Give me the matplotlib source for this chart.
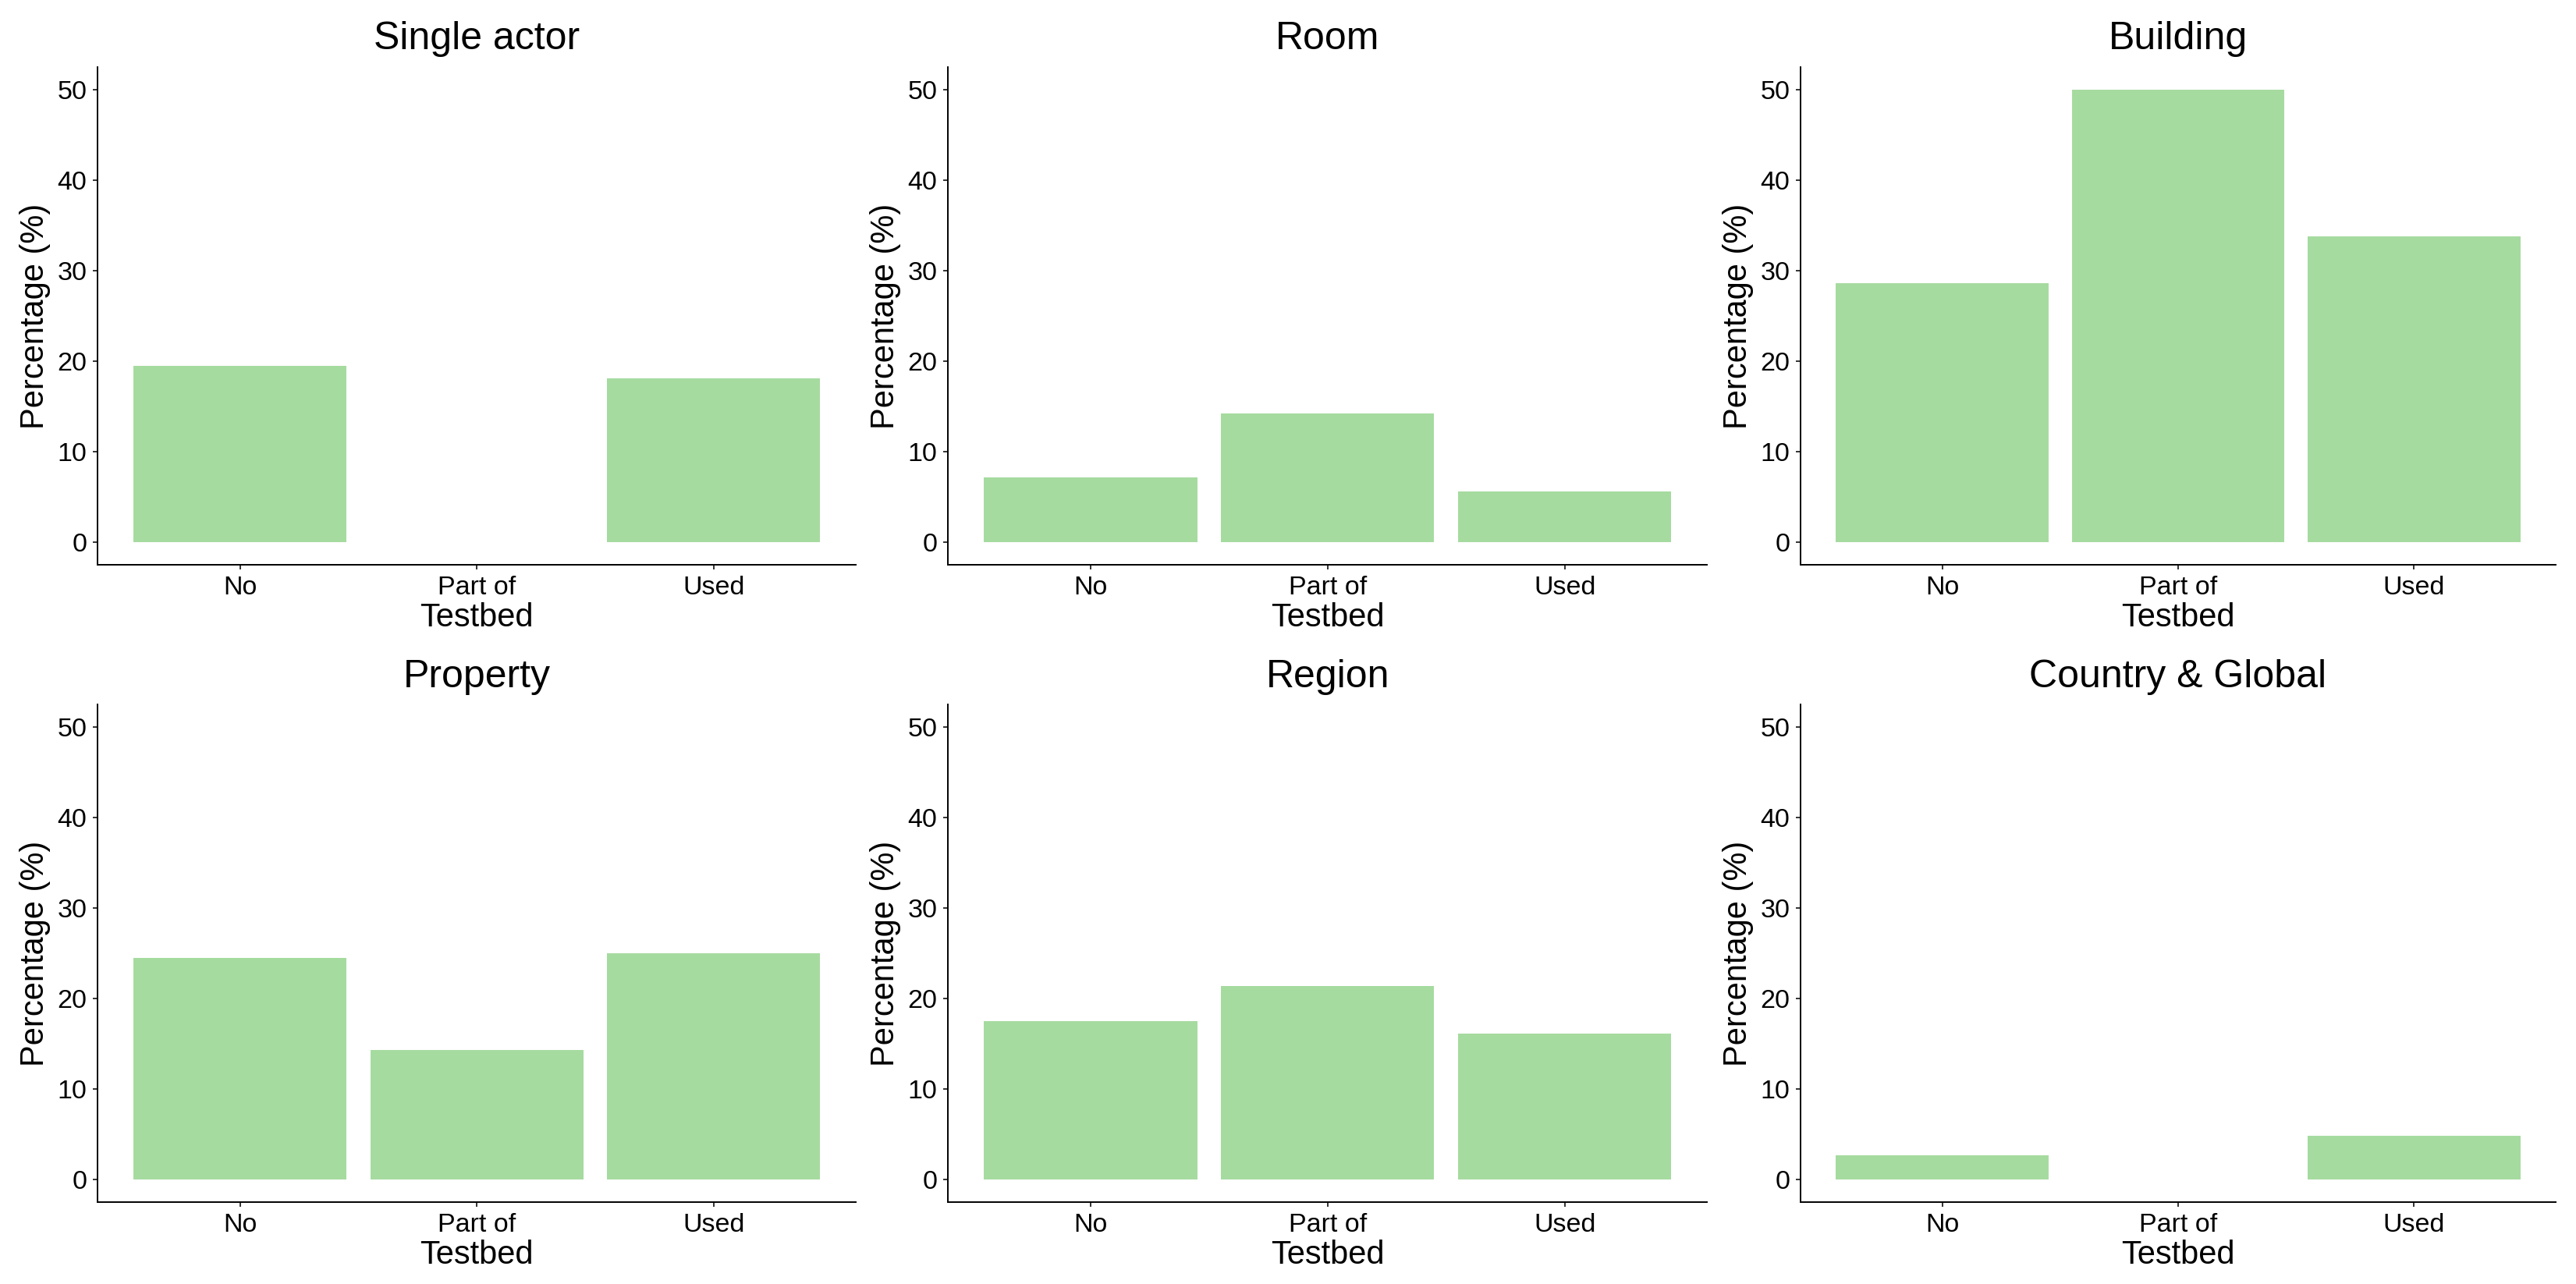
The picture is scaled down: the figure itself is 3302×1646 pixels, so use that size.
import matplotlib
matplotlib.use("Agg")
import matplotlib.pyplot as plt

# ---- data ----
categories = ["No", "Part of", "Used"]
panel_titles = ["Single actor", "Room", "Building", "Property", "Region", "Country & Global"]
single_actor = [19.5, 0.0, 18.1]
room = [7.2, 14.2, 5.6]
building = [28.6, 50.0, 33.8]
property_ = [24.5, 14.3, 25.0]
region = [17.5, 21.4, 16.1]
country_global = [2.7, 0.0, 4.85]
y_ticks = [0, 10, 20, 30, 40, 50]

series = [single_actor, room, building, property_, region, country_global]

plt.rcParams['font.family'] = ['Liberation Sans', 'DejaVu Sans']

fig = plt.figure(figsize=(33.02, 16.46), dpi=100)

col_lefts = [0.0380, 0.3681, 0.6990]
col_widths = [0.2942, 0.2945, 0.2931]
row_bottoms = [0.5600, 0.0635]
row_height = 0.3880

bar_color = "#A6DBA0"

for i, (title, vals) in enumerate(zip(panel_titles, series)):
    r, c = divmod(i, 3)
    ax = fig.add_axes([col_lefts[c], row_bottoms[r], col_widths[c], row_height])
    xs = list(range(1, len(categories) + 1))
    ax.bar(xs, vals, width=0.9, color=bar_color, linewidth=0)
    ax.set_xlim(0.4, 3.6)
    ax.set_ylim(-2.5, 52.5)
    ax.set_xticks(xs)
    ax.set_xticklabels(categories)
    ax.set_yticks(y_ticks)
    for s in ["top", "right"]:
        ax.spines[s].set_visible(False)
    for s in ["left", "bottom"]:
        ax.spines[s].set_linewidth(1.4)
        ax.spines[s].set_color("black")
    ax.tick_params(axis="both", length=4, width=1.4, color="#333333",
                   labelsize=24.5, labelcolor="black", pad=6)
    ax.set_xlabel("Testbed", fontsize=30, labelpad=2)
    ax.set_ylabel("Percentage (%)", fontsize=30, labelpad=6)
    ax.set_title(title, fontsize=36, pad=16)

fig.savefig("out.png", dpi=100, facecolor="white")
